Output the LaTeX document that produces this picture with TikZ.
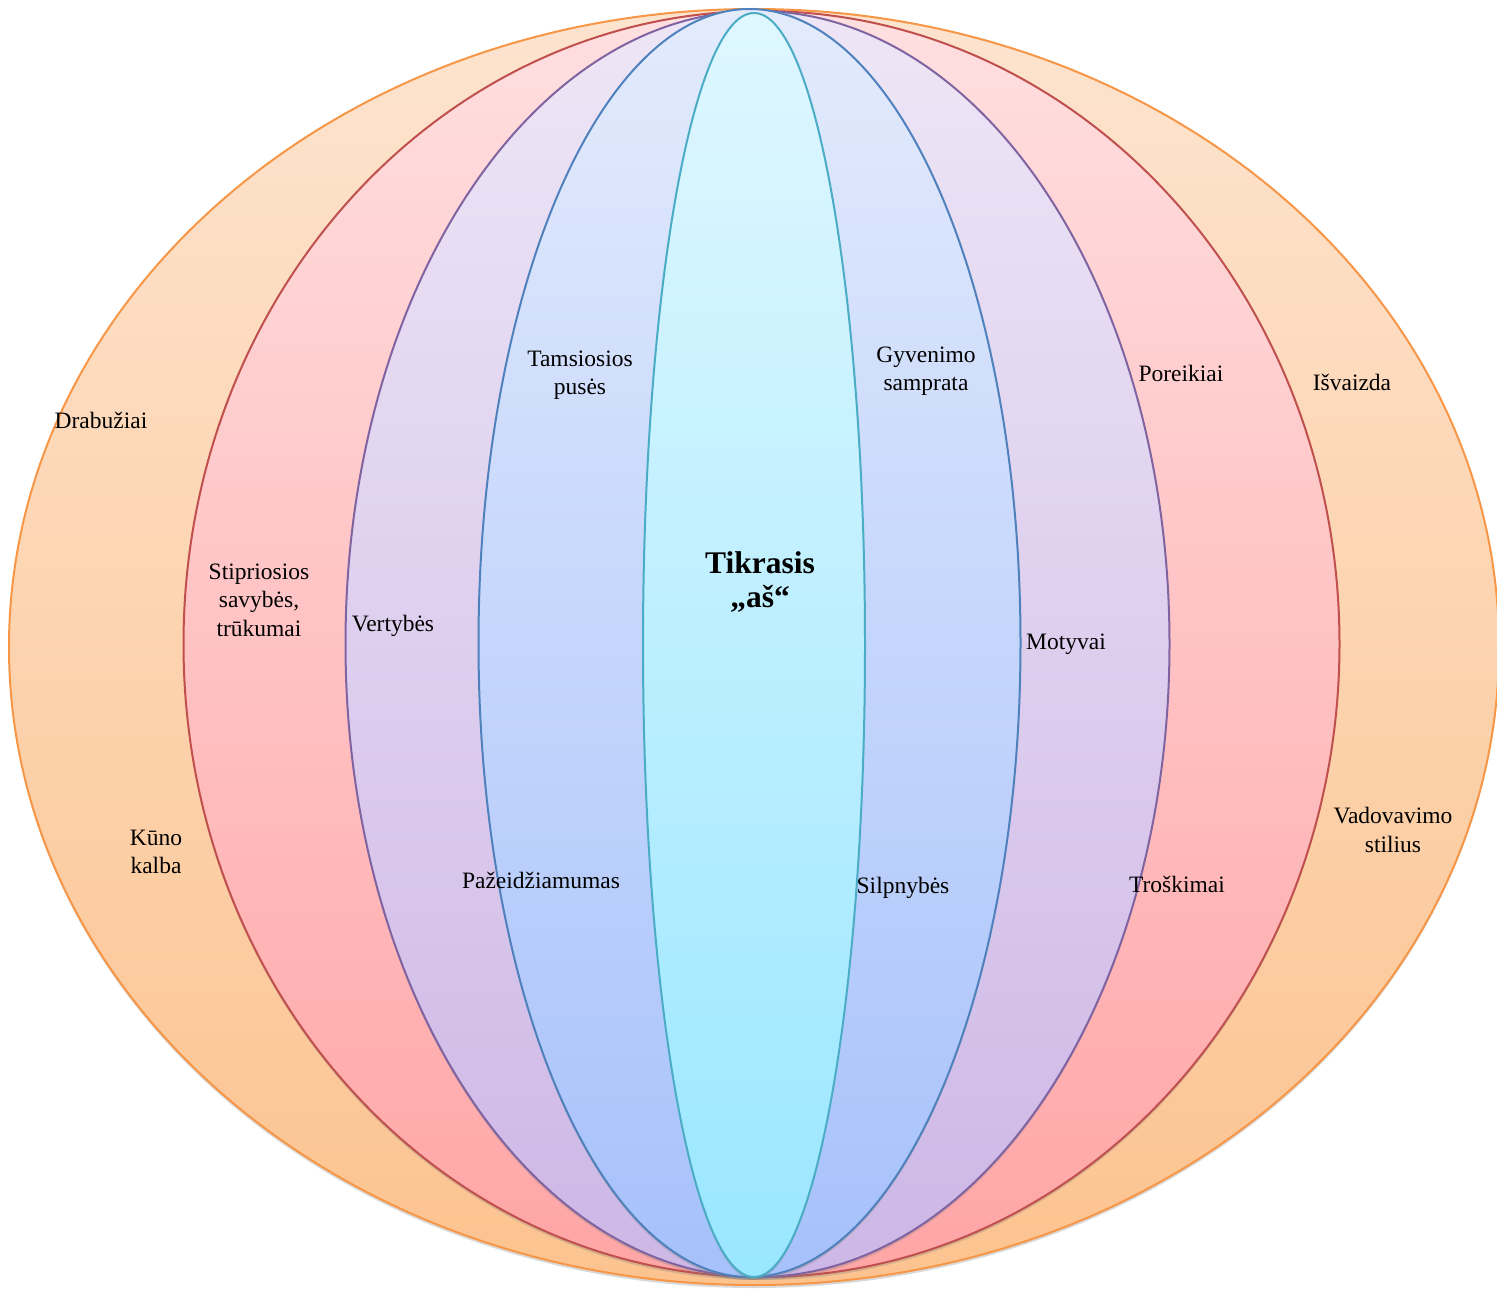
\documentclass[tikz,border=0pt]{standalone}
\usepackage{fontspec}
\setmainfont{Liberation Serif}
\usetikzlibrary{shadows}
\definecolor{orLine}{HTML}{F79646}
\definecolor{orTop}{HTML}{FDE4CF}
\definecolor{orBot}{HTML}{FCC38F}
\definecolor{rdLine}{HTML}{C0504D}
\definecolor{rdTop}{HTML}{FFDFE0}
\definecolor{rdBot}{HTML}{FFA5A6}
\definecolor{puLine}{HTML}{8064A2}
\definecolor{puTop}{HTML}{EEE6F6}
\definecolor{puBot}{HTML}{CDB7E6}
\definecolor{blLine}{HTML}{4F81BD}
\definecolor{blTop}{HTML}{E3EBFC}
\definecolor{blBot}{HTML}{A6C1FB}
\definecolor{cyLine}{HTML}{4BACC6}
\definecolor{cyTop}{HTML}{DFF7FF}
\definecolor{cyBot}{HTML}{9AE7FF}
\begin{document}
\begin{tikzpicture}[x=1pt,y=-1pt,
  lbl/.style={font=\fontsize{23.5}{28.5}\selectfont, align=center, inner sep=0pt},
  core/.style={font=\fontsize{31.5}{34}\selectfont\bfseries, align=center, inner sep=0pt},
  ring/.style={line width=2pt, drop shadow={opacity=0.3, shadow xshift=0pt, shadow yshift=-3pt}}]
\useasboundingbox (0,0) rectangle (1497,1289);
\clip (0,0) rectangle (1497,1289);
\shade[ring, draw=orLine, top color=orTop, bottom color=orBot] (754,647) ellipse [x radius=745pt, y radius=638pt];
\shade[ring, draw=rdLine, top color=rdTop, bottom color=rdBot] (761.5,644) ellipse [x radius=578pt, y radius=633pt];
\shade[ring, draw=puLine, top color=puTop, bottom color=puBot] (757.5,644) ellipse [x radius=412pt, y radius=633pt];
\shade[ring, draw=blLine, top color=blTop, bottom color=blBot] (749.5,643) ellipse [x radius=271pt, y radius=634pt];
\shade[ring, draw=cyLine, top color=cyTop, bottom color=cyBot] (754,645) ellipse [x radius=111pt, y radius=632pt];

\node[lbl] (drab) at (101,420) {Drabužiai};
\node[lbl] (isv) at (1352,382) {Išvaizda};
\node[lbl] (stip) at (259,600) {Stipriosios\\savybės,\\trūkumai};
\node[lbl] (vert) at (393,626) {Vertybės};
\node[lbl] (tams) at (580,375) {Tamsiosios\\pusės};
\node[lbl] (gyv) at (926,371) {Gyvenimo\\samprata};
\node[lbl] (por) at (1181,373) {Poreikiai};
\node[core] (tikr) at (760,582) {Tikrasis\\„aš“};
\node[lbl] (mot) at (1066,644) {Motyvai};
\node[lbl] (kun) at (156,852) {Kūno\\kalba};
\node[lbl] (paz) at (541,880) {Pažeidžiamumas};
\node[lbl] (silp) at (903,888) {Silpnybės};
\node[lbl] (tros) at (1177,884) {Troškimai};
\node[lbl] (vad) at (1393,830) {Vadovavimo\\stilius};
\end{tikzpicture}
\end{document}
